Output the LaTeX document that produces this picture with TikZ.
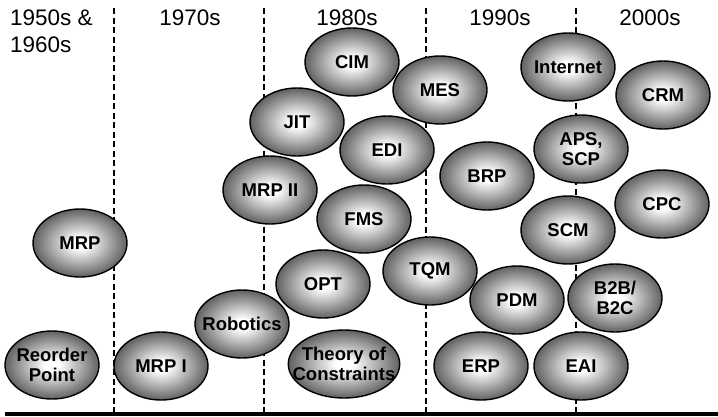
\documentclass[tikz,border=0pt]{standalone}
\usepackage{fontspec}
\setmainfont{Liberation Sans}
\usetikzlibrary{shapes.geometric}

% sombreado radial das bolhas
\pgfdeclareradialshading{bolha}{\pgfpoint{0bp}{0bp}}{color(0bp)=(white); color(4bp)=(white); color(25bp)=(black!62); color(50bp)=(black!62)}

\begin{document}
\begin{tikzpicture}[x=1pt, y=-1pt]
    % Estilos
    \tikzstyle{tech}=[ellipse, draw, line width=1.4pt, shade, shading=bolha, minimum width=94pt, minimum height=68pt, inner xsep=-12pt, inner ysep=-4pt, align=center, font=\bfseries\fontsize{18.5}{20.5}\selectfont]
    \tikzstyle{decada}=[inner sep=0pt, anchor=base, font=\fontsize{22.5}{27}\selectfont]
    \tikzstyle{divisa}=[line width=1.1pt, dash pattern=on 6pt off 3.5pt]

    \useasboundingbox (0,0) rectangle (718,416);

    % Divisas entre as décadas
    \foreach \x in {114,264,426,576}
        \draw[divisa] (\x,8) -- (\x,412);

    % Décadas
    \node[decada, anchor=base west] (d50a) at (10,25) {1950s \&};
    \node[decada, anchor=base west] (d50b) at (10,52) {1960s};
    \node[decada] (d70) at (190,25) {1970s};
    \node[decada] (d80) at (347,25) {1980s};
    \node[decada] (d90) at (500,25) {1990s};
    \node[decada] (d00) at (650,25) {2000s};

    % Tecnologias
    \node[tech] (cim) at (352,62) {CIM};
    \node[tech] (mes) at (440,90) {MES};
    \node[tech] (internet) at (568,67) {Internet};
    \node[tech] (crm) at (663,95) {CRM};
    \node[tech] (jit) at (297,122) {JIT};
    \node[tech] (edi) at (387,150) {EDI};
    \node[tech] (aps) at (581,149) {APS,\\SCP};
    \node[tech] (brp) at (487,176) {BRP};
    \node[tech] (mrp2) at (270,190) {MRP II};
    \node[tech] (fms) at (364,219) {FMS};
    \node[tech] (cpc) at (662,204) {CPC};
    \node[tech] (scm) at (568,230) {SCM};
    \node[tech] (mrp) at (80,243) {MRP};
    \node[tech] (opt) at (323,284) {OPT};
    \node[tech] (tqm) at (430,271) {TQM};
    \node[tech] (pdm) at (517,300) {PDM};
    \node[tech] (b2b) at (615,298) {B2B/\\B2C};
    \node[tech] (robotics) at (242,324) {Robotics};
    \node[tech] (reorder) at (52,365) {Reorder\\Point};
    \node[tech] (mrp1) at (161,366) {MRP I};
    \node[tech] (toc) at (344,364) {Theory of\\Constraints};
    \node[tech] (erp) at (481,366) {ERP};
    \node[tech] (eai) at (581,366) {EAI};

    % Linha do tempo
    \draw[line width=4.5pt] (5,414) -- (718,414);
\end{tikzpicture}
\end{document}
